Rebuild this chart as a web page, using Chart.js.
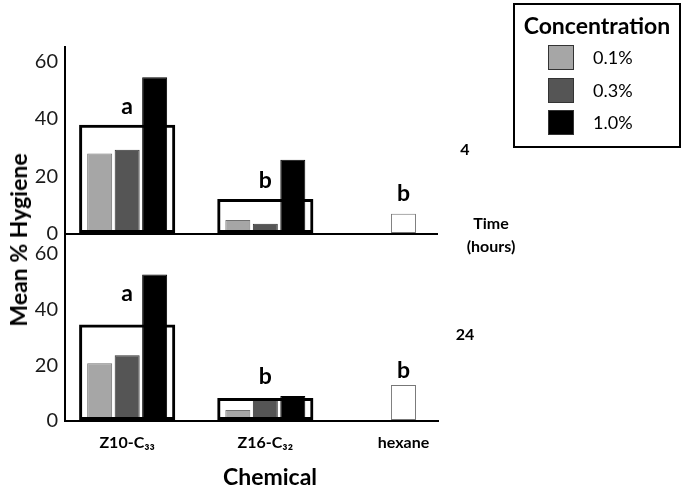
<!DOCTYPE html>
<html>
<head>
<meta charset="utf-8">
<script src="https://cdn.jsdelivr.net/npm/chart.js@4.4.0/dist/chart.umd.min.js"></script>
<style>
  body { margin: 0; background: #fff; font-family: Lato, 'Open Sans', sans-serif; color: #000; }
  #wrap { position: relative; width: 685px; height: 488px; overflow: hidden; }
  #chart { position: absolute; left: 0; top: 0; }
  .ytitle { position: absolute; left: 18px; top: 240px; transform: translate(-50%, -50%) rotate(-90deg);
            font-weight: bold; font-size: 23px; white-space: nowrap; }
  .xtitle { position: absolute; left: 270px; top: 476px; transform: translate(-50%, -50%);
            font-weight: bold; font-size: 23px; white-space: nowrap; }
  .legend { position: absolute; left: 513px; top: 3px; width: 164px; height: 141px; border: 2px solid #000; }
  .legend .title { text-align: center; font-weight: bold; font-size: 23px; margin-top: 6px; }
  .legend .item { position: absolute; left: 33px; height: 25px; line-height: 25px; font-size: 18px; }
  .legend .sw { display: inline-block; width: 24px; height: 23px; border: 1px solid #333; vertical-align: top; margin-right: 19px; }
  .tlab { position: absolute; transform: translate(-50%, -50%); font-weight: bold; font-size: 16px; text-align: center; white-space: nowrap; line-height: 23px; }
</style>
</head>
<body>
<div id="wrap">
  <canvas id="chart" width="685" height="488"></canvas>
  <div class="ytitle">Mean % Hygiene</div>
  <div class="xtitle">Chemical</div>
  <div class="legend" id="legend"><div class="title">Concentration</div></div>
  <div class="tlab" id="t4" style="left:465px; top:148px;"></div>
  <div class="tlab" style="left:491px; top:234px;">Time<br>(hours)</div>
  <div class="tlab" id="t24" style="left:465px; top:333px;"></div>
</div>
<script>
const chemicals = ['Z10-C\u2083\u2083', 'Z16-C\u2083\u2082', 'hexane'];
const concentrations = ['0.1%', '0.3%', '1.0%'];
const timeLabels = ['4', '24'];
const yTicks = [0, 20, 40, 60];

// 4 hours
const h4_c01 = [28, 4.9, null];
const h4_c03 = [29.3, 3.6, null];
const h4_c10 = [54.5, 25.8, null];
const h4_mean = [38, 12.2, null];
const h4_hexane = [null, null, 7];
const h4_letters = ['a', 'b', 'b'];
const h4_letterAt = [41.8, 16, 11.5];

// 24 hours
const h24_c01 = [20.7, 3.9, null];
const h24_c03 = [23.6, 7.9, null];
const h24_c10 = [52.5, 9, null];
const h24_mean = [34.6, 8.2, null];
const h24_hexane = [null, null, 12.9];
const h24_letters = ['a', 'b', 'b'];
const h24_letterAt = [42.9, 13.2, 15.4];

const fills = ['#a6a6a6', '#555555', '#000000'];
const edges = ['#707070', '#333333', '#000000'];
const FONT = 'Lato, "Open Sans", sans-serif';

// legend + time labels (html)
const legend = document.getElementById('legend');
concentrations.forEach((c, k) => {
    const item = document.createElement('div');
    item.className = 'item';
    item.style.top = (40 + k * 32.5) + 'px';
    item.innerHTML = `<span class="sw" style="background:${fills[k]}"></span>${c}`;
    legend.appendChild(item);
});
document.getElementById('t4').textContent = timeLabels[0];
document.getElementById('t24').textContent = timeLabels[1];

function toXY(arr) {
    return arr.map((v, i) => ({ x: i, y: v }));
}

function panel(series, mean, hexane, axis) {
    const ds = series.map((vals, k) => ({
        label: concentrations[k],
        data: toXY(vals),
        yAxisID: axis,
        stack: 'c' + k,
        backgroundColor: fills[k],
        borderColor: edges[k],
        borderWidth: 1,
        borderSkipped: false,
        categoryPercentage: 0.597,
        barPercentage: 0.909,
        order: 1
    }));
    ds.push({
        label: 'mean',
        data: toXY(mean),
        yAxisID: axis,
        stack: 'c0',
        grouped: false,
        backgroundColor: 'rgba(0,0,0,0)',
        borderColor: '#000',
        borderWidth: 3,
        borderSkipped: false,
        categoryPercentage: 1,
        barPercentage: 0.696,
        order: 0
    });
    ds.push({
        label: 'hexane',
        data: toXY(hexane),
        yAxisID: axis,
        stack: 'c0',
        grouped: false,
        backgroundColor: '#fff',
        borderColor: '#777',
        borderWidth: 1,
        borderSkipped: false,
        categoryPercentage: 1,
        barPercentage: 0.181,
        order: 1
    });
    return ds;
}

// letters over the groups
const letterPlugin = {
    id: 'letters',
    afterDatasetsDraw(chart) {
        const ctx = chart.ctx;
        const xs = chart.scales.x;
        [[h4_letters, h4_letterAt, 'yTop'], [h24_letters, h24_letterAt, 'yBot']].forEach(([letters, at, id]) => {
            const ys = chart.scales[id];
            letters.forEach((l, i) => {
                ctx.save();
                ctx.font = 'bold 23px ' + FONT;
                ctx.fillStyle = '#000';
                ctx.textAlign = 'center';
                ctx.textBaseline = 'alphabetic';
                ctx.fillText(l, xs.getPixelForValue(i), ys.getPixelForValue(at[i]));
                ctx.restore();
            });
        });
    }
};

function yAxis(max, zeroLine) {
    return {
        type: 'linear',
        position: 'left',
        stack: 'panels',
        stackWeight: 1,
        stacked: false,
        min: 0,
        max: max,
        afterBuildTicks: s => { s.ticks = yTicks.map(v => ({ value: v })); },
        afterFit: s => { s.width = 65; },
        ticks: { font: { family: FONT, size: 20 }, color: '#1a1a1a', padding: 7 },
        grid: {
            drawTicks: false,
            drawOnChartArea: zeroLine,
            lineWidth: 2,
            color: c => (c.tick && c.tick.value === 0) ? '#000' : 'rgba(0,0,0,0)'
        },
        border: { color: '#000', width: 2 }
    };
}

new Chart(document.getElementById('chart').getContext('2d'), {
    type: 'bar',
    data: {
        datasets: panel([h4_c01, h4_c03, h4_c10], h4_mean, h4_hexane, 'yTop')
            .concat(panel([h24_c01, h24_c03, h24_c10], h24_mean, h24_hexane, 'yBot'))
    },
    options: {
        responsive: false,
        animation: false,
        devicePixelRatio: 1,
        layout: { padding: { left: 0, right: 247, top: 47, bottom: 0 } },
        plugins: { legend: { display: false }, tooltip: { enabled: false } },
        scales: {
            x: {
                type: 'linear',
                offset: false,
                min: -0.45,
                max: 2.25,
                afterBuildTicks: s => { s.ticks = chemicals.map((c, i) => ({ value: i })); },
                afterFit: s => { s.height = 67; },
                ticks: {
                    callback: v => chemicals[v],
                    font: { family: FONT, size: 16, weight: 'bold' },
                    color: '#000',
                    padding: 12,
                    maxRotation: 0,
                    autoSkip: false
                },
                grid: { display: false, drawTicks: false, offset: false },
                border: { color: '#000', width: 2 }
            },
            yBot: yAxis(67, false),
            yTop: yAxis(65, true)
        }
    },
    plugins: [letterPlugin]
});
</script>
</body>
</html>
